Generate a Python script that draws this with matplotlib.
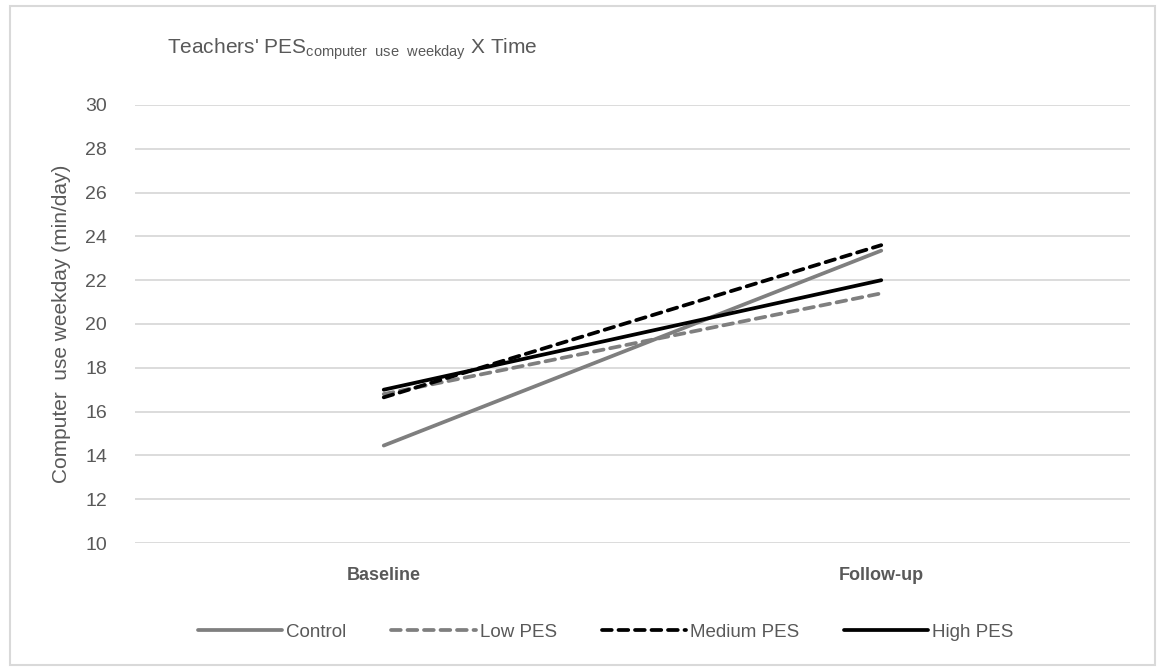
import matplotlib
matplotlib.use("Agg")
import matplotlib.pyplot as plt
from matplotlib.patches import Rectangle

plt.rcParams['font.family'] = ['Liberation Sans', 'DejaVu Sans']
plt.rcParams['mathtext.fontset'] = 'custom'
plt.rcParams['mathtext.rm'] = 'Liberation Sans'
plt.rcParams['mathtext.it'] = 'Liberation Sans'

categories = ["Baseline", "Follow-up"]
series_names = ["Control", "Low PES", "Medium PES", "High PES"]
control = [14.45, 23.35]
low_pes = [16.8, 21.4]
medium_pes = [16.65, 23.6]
high_pes = [17.0, 22.0]
yticks = [10, 12, 14, 16, 18, 20, 22, 24, 26, 28, 30]

TXT = '#595959'
fig = plt.figure(figsize=(11.65, 6.72), dpi=100)
fig.patches.append(Rectangle((10/1165, 1-665/672), 1145/1165, 659/672, transform=fig.transFigure,
                             fill=False, edgecolor='#d9d9d9', linewidth=1.5))
ax = fig.add_axes([135/1165, 1-543/672, 995/1165, 438/672])

x = [0, 1]
styles = [
    (control, '#7f7f7f', '-'),
    (low_pes, '#7f7f7f', (0, (2.6, 1.8))),
    (medium_pes, '#000000', (0, (2.6, 1.8))),
    (high_pes, '#000000', '-'),
]
for (vals, col, ls), name in zip(styles, series_names):
    ax.plot(x, vals, color=col, linestyle=ls, linewidth=2.7, label=name,
            solid_capstyle='round', dash_capstyle='round', zorder=3)

ax.set_xlim(-0.5, 1.5)
ax.set_ylim(10, 30)
ax.set_yticks(yticks)
ax.set_xticks(x)
ax.set_xticklabels(categories, fontsize=13, fontweight='bold', color=TXT)
ax.tick_params(axis='x', length=0, pad=17)
ax.tick_params(axis='y', length=0, pad=20, labelsize=14, labelcolor=TXT)
ax.grid(axis='y', color='#d9d9d9', linewidth=1.3, zorder=0)
for s in ax.spines.values():
    s.set_visible(False)
ax.set_ylabel("Computer  use weekday (min/day)", fontsize=15, color=TXT, labelpad=10)

fig.text(167/1165, 1-49/672, r"Teachers' PES$_{\mathrm{computer\ \ use\ \ weekday}}$ X Time",
         fontsize=15, color=TXT, ha='left', va='center')

leg = fig.legend(loc='center', bbox_to_anchor=(0.52, 1-632/672), ncol=4, frameon=False,
                 fontsize=13.5, handlelength=4.5, columnspacing=2.4, handletextpad=0.2)
for t in leg.get_texts():
    t.set_color(TXT)

fig.savefig("out.png", dpi=100)
